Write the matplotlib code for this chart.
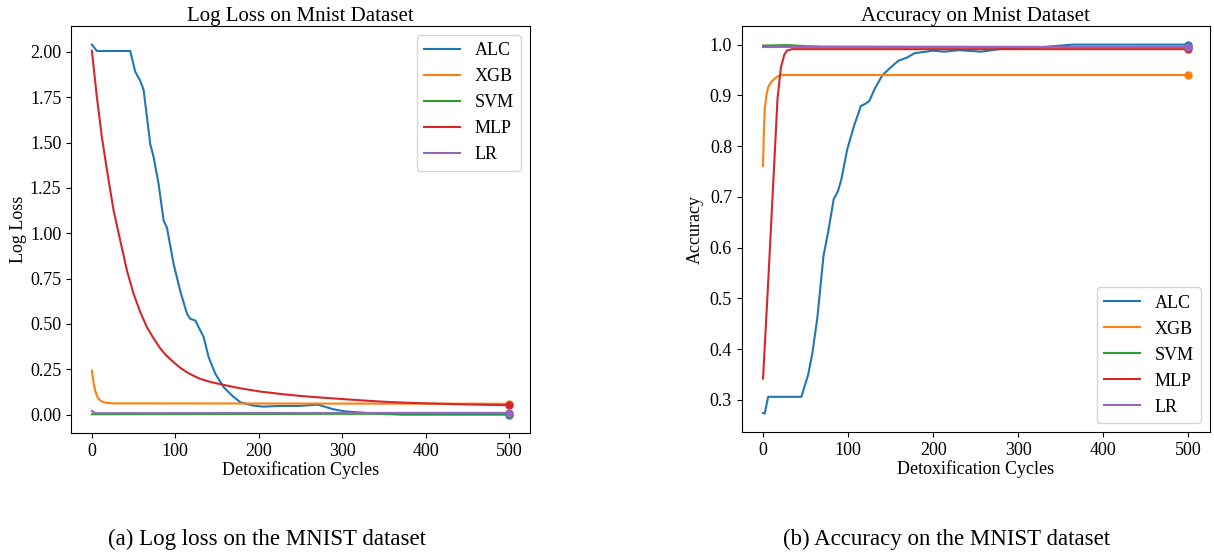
import matplotlib
matplotlib.use("Agg")
from matplotlib import pyplot as plt

plt.rcParams['font.family'] = ['Liberation Serif', 'DejaVu Serif']

names = ["ALC", "XGB", "SVM", "MLP", "LR"]
colors = ["#1f77b4", "#ff7f0e", "#2ca02c", "#d62728", "#9467bd"]

# log loss curves (cycle, value)
loss_alc_x = [0, 6, 46, 52, 58, 62, 70, 74, 80, 86, 90, 98, 106, 114, 118, 124, 134, 140, 148,
              158, 168, 178, 193, 205, 225, 248, 271, 289, 303, 326, 349, 372, 500]
loss_alc_y = [2.04, 2.005, 2.005, 1.89, 1.84, 1.79, 1.49, 1.42, 1.27, 1.07, 1.03, 0.83, 0.68, 0.556,
              0.528, 0.519, 0.427, 0.316, 0.225, 0.151, 0.105, 0.068, 0.05, 0.044, 0.048, 0.048,
              0.055, 0.03, 0.018, 0.01, 0.004, 0.0, 0.0]
loss_xgb_x = [0, 2, 4, 6, 8, 11, 14, 19, 26, 500]
loss_xgb_y = [0.243, 0.175, 0.132, 0.105, 0.087, 0.075, 0.068, 0.064, 0.062, 0.06]
loss_svm_x = [0, 500]
loss_svm_y = [0.002, 0.006]
loss_mlp_x = [0, 6, 12, 18, 26, 34, 42, 50, 58, 66, 74, 82, 90, 98, 106, 114, 122, 130, 142,
              154, 166, 178, 190, 202, 226, 250, 275, 300, 325, 350, 375, 400, 450, 500]
loss_mlp_y = [2.006, 1.75, 1.53, 1.35, 1.126, 0.96, 0.795, 0.666, 0.565, 0.482, 0.42, 0.365,
              0.322, 0.289, 0.258, 0.233, 0.214, 0.197, 0.18, 0.168, 0.156, 0.145, 0.136, 0.127,
              0.114, 0.103, 0.094, 0.086, 0.078, 0.071, 0.066, 0.062, 0.056, 0.052]
loss_lr_x = [0, 4, 500]
loss_lr_y = [0.02, 0.008, 0.01]

# accuracy curves
acc_alc_x = [0, 2, 6, 45, 53, 58, 64, 71, 77, 83, 88, 92, 99, 107, 115, 120, 125, 131, 140, 148,
             159, 170, 178, 200, 213, 230, 256, 286, 329, 364, 500]
acc_alc_y = [0.274, 0.273, 0.306, 0.306, 0.349, 0.392, 0.464, 0.583, 0.635, 0.695, 0.711, 0.734,
             0.794, 0.84, 0.879, 0.883, 0.889, 0.912, 0.939, 0.952, 0.968, 0.975, 0.983, 0.988,
             0.986, 0.989, 0.986, 0.993, 0.995, 1.0, 1.0]
acc_xgb_x = [0, 1, 2, 4, 6, 9, 13, 17, 21, 26, 500]
acc_xgb_y = [0.761, 0.83, 0.873, 0.9, 0.916, 0.925, 0.932, 0.937, 0.94, 0.94, 0.94]
acc_svm_x = [0, 28, 50, 71, 500]
acc_svm_y = [0.998, 0.999, 0.997, 0.996, 0.995]
acc_mlp_x = [0, 6, 13, 17, 21, 25, 28, 34, 500]
acc_mlp_y = [0.342, 0.53, 0.76, 0.893, 0.955, 0.98, 0.988, 0.991, 0.991]
acc_lr_x = [0, 500]
acc_lr_y = [0.995, 0.995]

loss_series = [(loss_alc_x, loss_alc_y), (loss_xgb_x, loss_xgb_y), (loss_svm_x, loss_svm_y),
               (loss_mlp_x, loss_mlp_y), (loss_lr_x, loss_lr_y)]
acc_series = [(acc_alc_x, acc_alc_y), (acc_xgb_x, acc_xgb_y), (acc_svm_x, acc_svm_y),
              (acc_mlp_x, acc_mlp_y), (acc_lr_x, acc_lr_y)]

fig = plt.figure(figsize=(12.14, 5.56), dpi=100)
ax1 = fig.add_axes([0.0585, 0.221, 0.378, 0.732])
ax2 = fig.add_axes([0.611, 0.223, 0.3855, 0.730])

for ax, series in ((ax1, loss_series), (ax2, acc_series)):
    for (x, y), name, c in zip(series, names, colors):
        ax.plot(x, y, color=c, label=name, lw=1.5)
        ax.plot(x[-1], y[-1], 'o', color=c, markersize=5)

ax1.set_title("Log Loss on Mnist Dataset", fontsize=15, pad=4)
ax1.set_xlabel("Detoxification Cycles", fontsize=13, labelpad=1)
ax1.set_ylabel("Log Loss", fontsize=13, labelpad=2)
ax1.set_xticks([0, 100, 200, 300, 400, 500])
ax1.set_yticks([0, 0.25, 0.5, 0.75, 1.0, 1.25, 1.5, 1.75, 2.0])
ax1.set_yticklabels(["0.00", "0.25", "0.50", "0.75", "1.00", "1.25", "1.50", "1.75", "2.00"])
ax1.legend(loc="upper right", fontsize=13)

ax2.set_title("Accuracy on Mnist Dataset", fontsize=15, pad=4)
ax2.set_xlabel("Detoxification Cycles", fontsize=13, labelpad=1)
ax2.set_ylabel("Accuracy", fontsize=13, labelpad=4)
ax2.set_xticks([0, 100, 200, 300, 400, 500])
ax2.legend(loc="lower right", fontsize=13)

for ax in (ax1, ax2):
    ax.tick_params(labelsize=13)

fig.text(0.220, 0.02, "(a) Log loss on the MNIST dataset", ha="center", va="baseline", fontsize=16.5)
fig.text(0.780, 0.02, "(b) Accuracy on the MNIST dataset", ha="center", va="baseline", fontsize=16.5)

plt.savefig("out.png", dpi=100)
